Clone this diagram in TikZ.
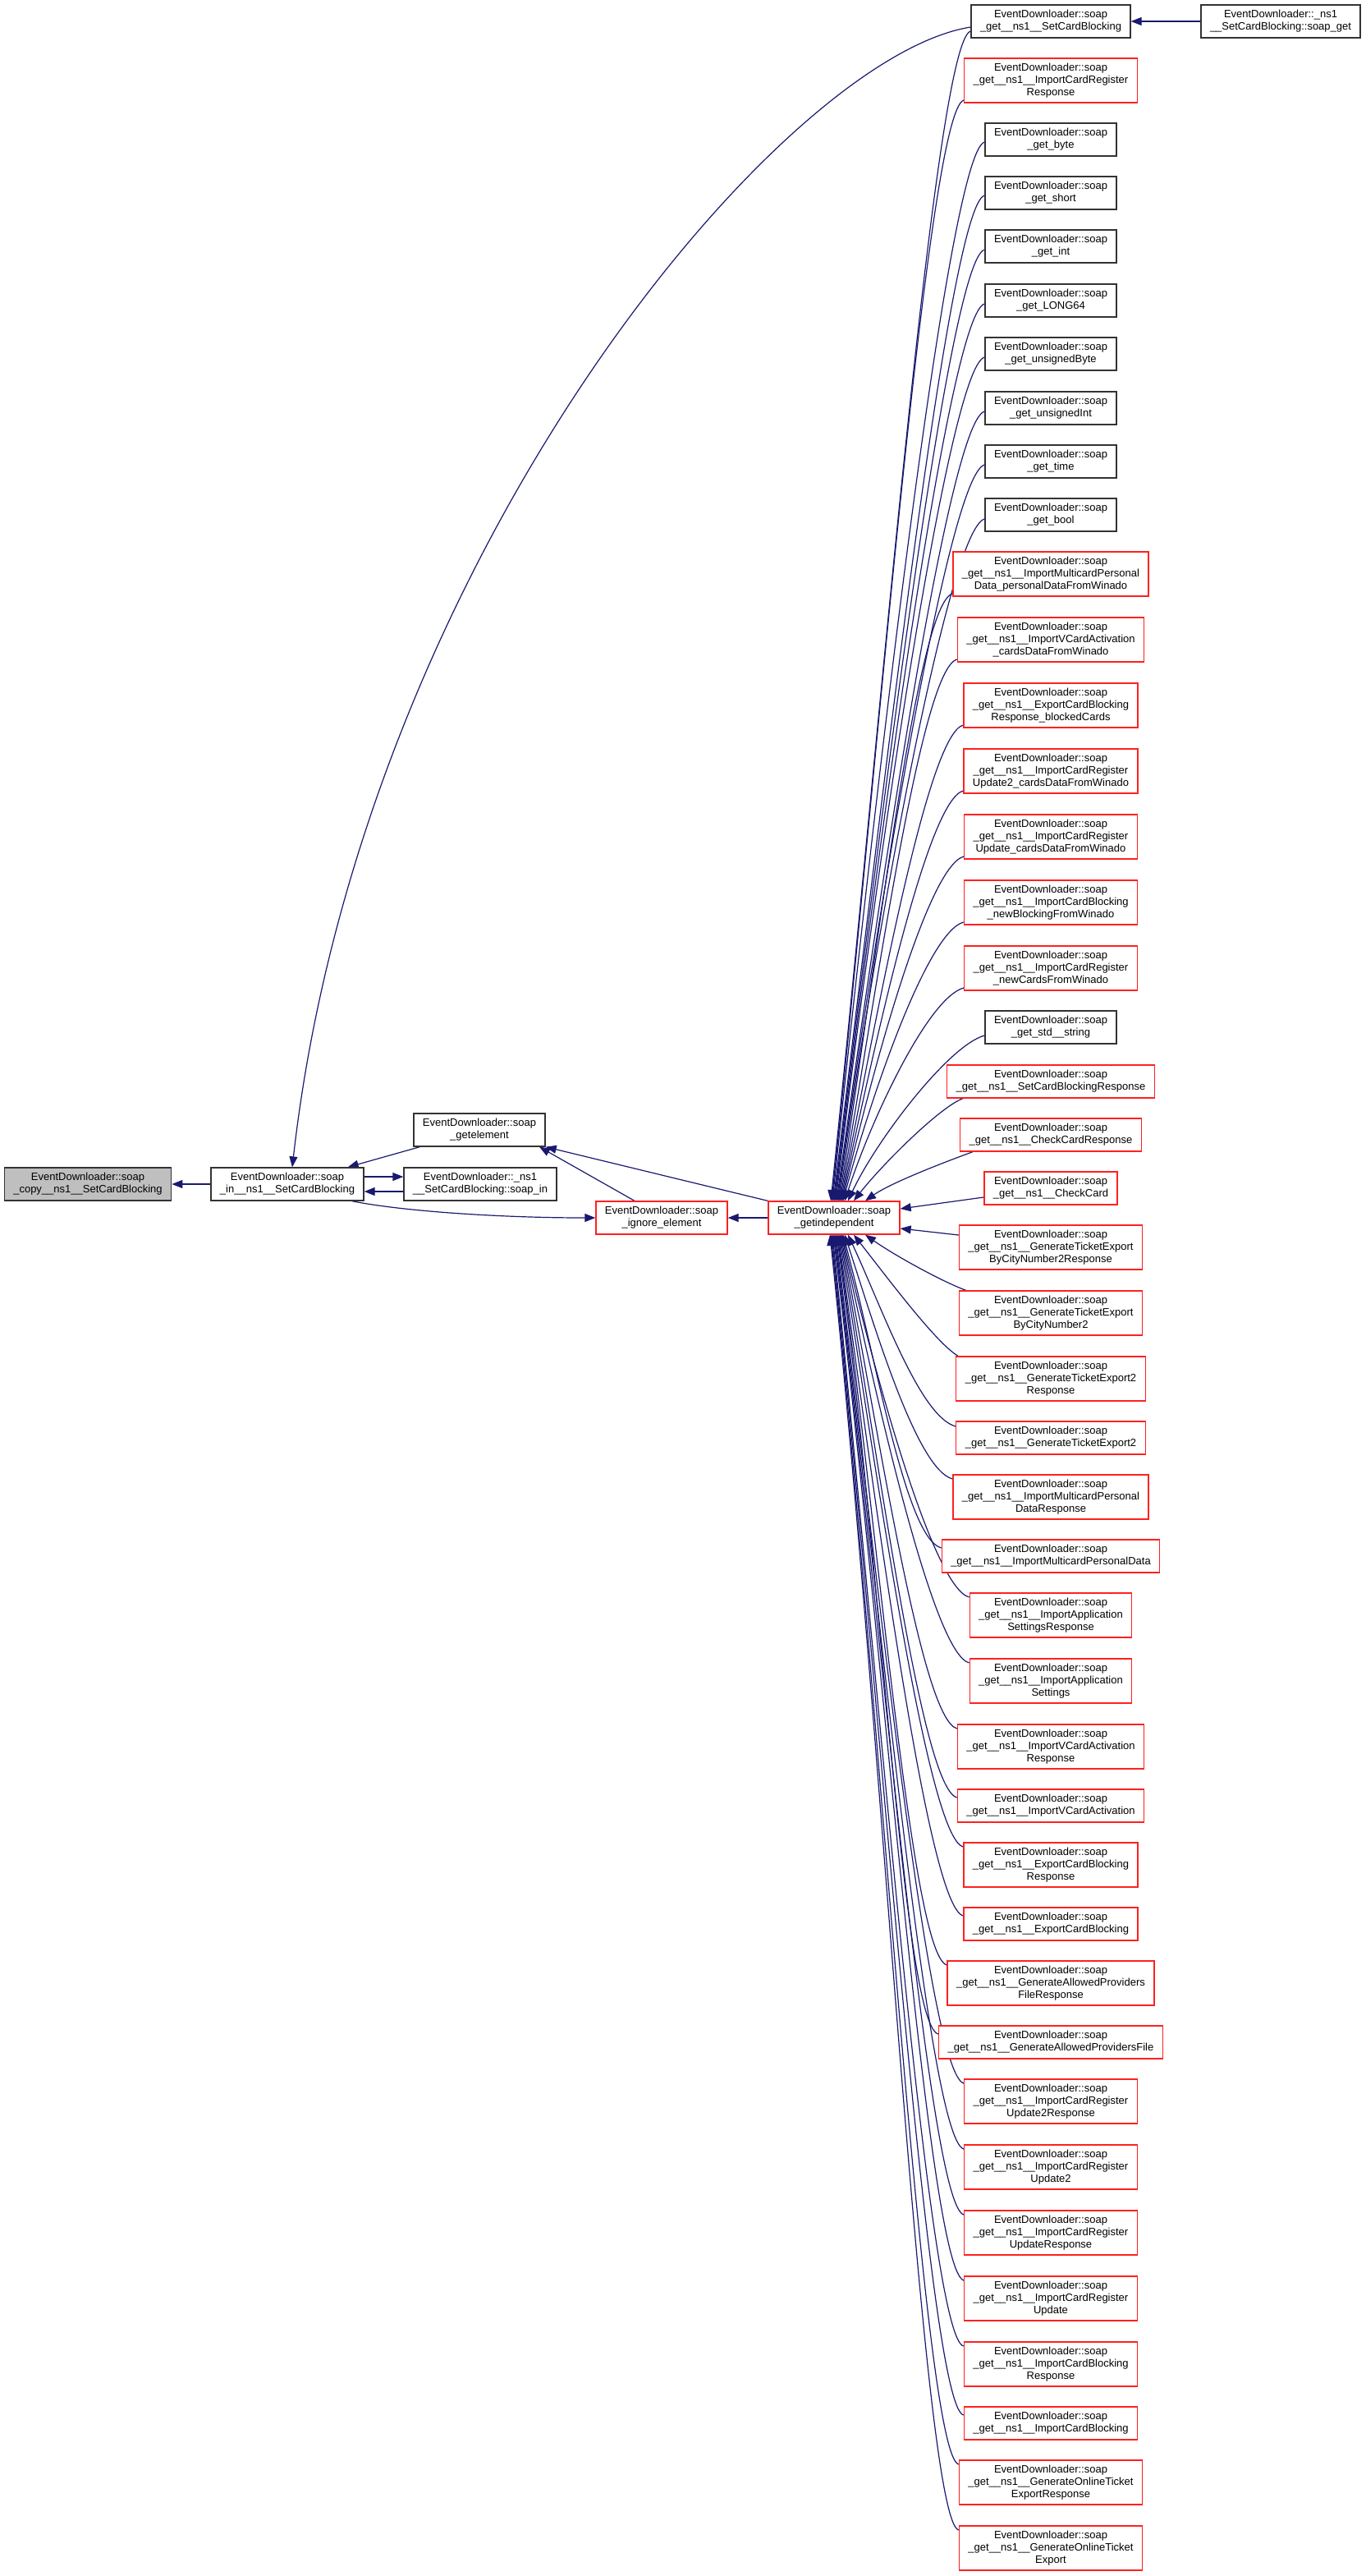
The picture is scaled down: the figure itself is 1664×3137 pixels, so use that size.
\documentclass[tikz,border=0pt]{standalone}
\usepackage{fontspec}
\setmainfont{Liberation Sans}
\usepackage{tikz}
\usetikzlibrary{arrows.meta}
\definecolor{linkblue}{HTML}{191970}
\definecolor{frame}{HTML}{333333}
\definecolor{cutred}{HTML}{FF2020}
\definecolor{selgray}{HTML}{BFBFBF}
\pgfdeclarelayer{bg}
\pgfsetlayers{bg,main}
\tikzset{
  fn/.style={draw=frame, line width=1.3pt, fill=white, align=center, inner xsep=11pt, inner ysep=2pt, minimum height=40pt, font=\fontsize{13pt}{15pt}\selectfont},
  cut/.style={fn, draw=cutred},
  sel/.style={fn, fill=selgray},
  tall/.style={minimum height=54pt},
  link/.style={draw=linkblue, line width=1.2pt, -{Triangle[length=13pt,width=10pt]}},
}

\begin{document}
\begin{tikzpicture}[x=1pt,y=1pt]
  \useasboundingbox (0,0) rectangle (1664,-3137);
  % left part
  \node[sel] (copy) at (107,-1442) {EventDownloader::soap\\\_copy\_\_ns1\_\_SetCardBlocking};
  \node[fn] (in) at (350,-1442) {EventDownloader::soap\\\_in\_\_ns1\_\_SetCardBlocking};
  \node[fn] (getel) at (584,-1376) {EventDownloader::soap\\\_getelement};
  \node[fn] (soapin) at (585,-1442) {EventDownloader::\_ns1\\\_\_SetCardBlocking::soap\_in};
  \node[cut] (ignore) at (806,-1483) {EventDownloader::soap\\\_ignore\_element};
  \node[cut] (gi) at (1016,-1483) {EventDownloader::soap\\\_getindependent};
  \node[fn] (scbget) at (1560,-26) {EventDownloader::\_ns1\\\_\_SetCardBlocking::soap\_get};
  % right column
  \node[fn] (scb) at (1280,-26) {EventDownloader::soap\\\_get\_\_ns1\_\_SetCardBlocking};
  \node[cut,tall] (icrr) at (1280,-98) {EventDownloader::soap\\\_get\_\_ns1\_\_ImportCardRegister\\Response};
  \node[fn] (byte) at (1280,-170) {EventDownloader::soap\\\_get\_byte};
  \node[fn] (short) at (1280,-235) {EventDownloader::soap\\\_get\_short};
  \node[fn] (int) at (1280,-300) {EventDownloader::soap\\\_get\_int};
  \node[fn] (long) at (1280,-366) {EventDownloader::soap\\\_get\_LONG64};
  \node[fn] (ubyte) at (1280,-431) {EventDownloader::soap\\\_get\_unsignedByte};
  \node[fn] (uint) at (1280,-497) {EventDownloader::soap\\\_get\_unsignedInt};
  \node[fn] (time) at (1280,-562) {EventDownloader::soap\\\_get\_time};
  \node[fn] (bool) at (1280,-627) {EventDownloader::soap\\\_get\_bool};
  \node[cut,tall] (impdpd) at (1280,-699) {EventDownloader::soap\\\_get\_\_ns1\_\_ImportMulticardPersonal\\Data\_personalDataFromWinado};
  \node[cut,tall] (ivcacd) at (1280,-779) {EventDownloader::soap\\\_get\_\_ns1\_\_ImportVCardActivation\\\_cardsDataFromWinado};
  \node[cut,tall] (ecbrbc) at (1280,-859) {EventDownloader::soap\\\_get\_\_ns1\_\_ExportCardBlocking\\Response\_blockedCards};
  \node[cut,tall] (icru2cd) at (1280,-939) {EventDownloader::soap\\\_get\_\_ns1\_\_ImportCardRegister\\Update2\_cardsDataFromWinado};
  \node[cut,tall] (icrucd) at (1280,-1019) {EventDownloader::soap\\\_get\_\_ns1\_\_ImportCardRegister\\Update\_cardsDataFromWinado};
  \node[cut,tall] (icbnb) at (1280,-1099) {EventDownloader::soap\\\_get\_\_ns1\_\_ImportCardBlocking\\\_newBlockingFromWinado};
  \node[cut,tall] (icrnc) at (1280,-1179) {EventDownloader::soap\\\_get\_\_ns1\_\_ImportCardRegister\\\_newCardsFromWinado};
  \node[fn] (stdstr) at (1280,-1251) {EventDownloader::soap\\\_get\_std\_\_string};
  \node[cut] (scbr) at (1280,-1317) {EventDownloader::soap\\\_get\_\_ns1\_\_SetCardBlockingResponse};
  \node[cut] (ccr) at (1280,-1382) {EventDownloader::soap\\\_get\_\_ns1\_\_CheckCardResponse};
  \node[cut] (cc) at (1280,-1447) {EventDownloader::soap\\\_get\_\_ns1\_\_CheckCard};
  \node[cut,tall] (gtebr) at (1280,-1519) {EventDownloader::soap\\\_get\_\_ns1\_\_GenerateTicketExport\\ByCityNumber2Response};
  \node[cut,tall] (gteb) at (1280,-1599) {EventDownloader::soap\\\_get\_\_ns1\_\_GenerateTicketExport\\ByCityNumber2};
  \node[cut,tall] (gte2r) at (1280,-1679) {EventDownloader::soap\\\_get\_\_ns1\_\_GenerateTicketExport2\\Response};
  \node[cut] (gte2) at (1280,-1751) {EventDownloader::soap\\\_get\_\_ns1\_\_GenerateTicketExport2};
  \node[cut,tall] (impdr) at (1280,-1823) {EventDownloader::soap\\\_get\_\_ns1\_\_ImportMulticardPersonal\\DataResponse};
  \node[cut] (impd) at (1280,-1895) {EventDownloader::soap\\\_get\_\_ns1\_\_ImportMulticardPersonalData};
  \node[cut,tall] (iasr) at (1280,-1967) {EventDownloader::soap\\\_get\_\_ns1\_\_ImportApplication\\SettingsResponse};
  \node[cut,tall] (ias) at (1280,-2047) {EventDownloader::soap\\\_get\_\_ns1\_\_ImportApplication\\Settings};
  \node[cut,tall] (ivcar) at (1280,-2127) {EventDownloader::soap\\\_get\_\_ns1\_\_ImportVCardActivation\\Response};
  \node[cut] (ivca) at (1280,-2199) {EventDownloader::soap\\\_get\_\_ns1\_\_ImportVCardActivation};
  \node[cut,tall] (ecbr) at (1280,-2271) {EventDownloader::soap\\\_get\_\_ns1\_\_ExportCardBlocking\\Response};
  \node[cut] (ecb) at (1280,-2343) {EventDownloader::soap\\\_get\_\_ns1\_\_ExportCardBlocking};
  \node[cut,tall] (gapfr) at (1280,-2415) {EventDownloader::soap\\\_get\_\_ns1\_\_GenerateAllowedProviders\\FileResponse};
  \node[cut] (gapf) at (1280,-2487) {EventDownloader::soap\\\_get\_\_ns1\_\_GenerateAllowedProvidersFile};
  \node[cut,tall] (icru2r) at (1280,-2559) {EventDownloader::soap\\\_get\_\_ns1\_\_ImportCardRegister\\Update2Response};
  \node[cut,tall] (icru2) at (1280,-2639) {EventDownloader::soap\\\_get\_\_ns1\_\_ImportCardRegister\\Update2};
  \node[cut,tall] (icrur) at (1280,-2719) {EventDownloader::soap\\\_get\_\_ns1\_\_ImportCardRegister\\UpdateResponse};
  \node[cut,tall] (icru) at (1280,-2799) {EventDownloader::soap\\\_get\_\_ns1\_\_ImportCardRegister\\Update};
  \node[cut,tall] (icbr) at (1280,-2879) {EventDownloader::soap\\\_get\_\_ns1\_\_ImportCardBlocking\\Response};
  \node[cut] (icb) at (1280,-2951) {EventDownloader::soap\\\_get\_\_ns1\_\_ImportCardBlocking};
  \node[cut,tall] (goter) at (1280,-3023) {EventDownloader::soap\\\_get\_\_ns1\_\_GenerateOnlineTicket\\ExportResponse};
  \node[cut,tall] (gote) at (1280,-3103) {EventDownloader::soap\\\_get\_\_ns1\_\_GenerateOnlineTicket\\Export};
  \begin{pgfonlayer}{bg}
  \fill[white] (0,0) rectangle (1664,-3137);
  % calls on the left
  \draw[link] (in.west) -- (copy.east);
  \draw[link] ([xshift=8pt]getel.south west) -- ([xshift=-20pt]in.north east);
  \draw[link] ([yshift=9pt]in.east) -- ([yshift=9pt]soapin.west);
  \draw[link] ([yshift=-9pt]soapin.west) -- ([yshift=-9pt]in.east);
  \draw[link] ([xshift=-15pt]in.south east) .. controls +(60,-12) and +(-120,0) .. (ignore.west);
  \draw[link] ([xshift=-33pt]ignore.north) -- ([xshift=73pt]getel.south);
  \draw[link] (gi.north west) -- (getel.south east);
  \draw[link] (gi.west) -- (ignore.east);
  \draw[link] (scbget.west) -- (scb.east);
  \draw[link] ([yshift=-7pt]scb.west) .. controls (950,-70) and (440,-680) .. ([xshift=6pt]in.north);
  % fan into getindependent
  \foreach \n/\ys/\dx/\a/\d in {scb/-12/-4/84/572, icrr/-24/-3/84/536, byte/-3/-2/84/515,
      short/-3/-1/83/489, int/-4/0/83/463, long/-4/1/83/436, ubyte/-4/2/83/410, uint/-4/3/82/384,
      time/-4/4/82/358, bool/-5/5/82/332, impdpd/-24/6/81/296, ivcacd/-24/7/80/264,
      ecbrbc/-24/8/79/232, icru2cd/-24/9/78/200, icrucd/-24/10/77/168, icbnb/-24/11/75/136,
      icrnc/-24/13/72/104, stdstr/-10/17/65/81}
    \draw[link] ([yshift=\ys pt]\n.west) .. controls +(195:45pt) and +(\a:\d pt) .. ([xshift=\dx pt]gi.north);
  \draw[link] ([xshift=20pt]scbr.south west) .. controls +(200:30pt) and +(52:55pt) .. ([xshift=24pt]gi.north);
  \draw[link] ([xshift=16pt]ccr.south west) .. controls +(200:30pt) and +(35:40pt) .. ([xshift=38pt]gi.north);
  \draw[link] ([yshift=-11pt]cc.west) -- ([yshift=11pt]gi.east);
  \draw[link] ([yshift=15pt]gtebr.west) -- ([yshift=-13pt]gi.east);
  \draw[link] ([xshift=9pt]gteb.north west) .. controls +(160:30pt) and +(-35:45pt) .. ([xshift=38pt]gi.south);
  \draw[link] ([xshift=3pt]gte2r.north west) .. controls +(150:30pt) and +(-52:70pt) .. ([xshift=24pt]gi.south);
  \foreach \n/\ys/\dx/\a/\d in {gte2/14/17/-65/97, impdr/22/13/-72/119, impd/10/11/-75/153,
      iasr/22/10/-77/177, ias/22/9/-78/209, ivcar/22/8/-79/241, ivca/10/7/-80/274,
      ecbr/22/6/-81/298, ecb/10/5/-82/332, gapfr/22/4/-82/356, gapf/10/3/-82/390,
      icru2r/22/2/-83/414, icru2/22/1/-83/446, icrur/22/0/-83/478, icru/22/-1/-83/510,
      icbr/22/-2/-84/542, icb/10/-3/-84/575, goter/22/-4/-84/599, gote/22/-5/-84/631}
    \draw[link] ([yshift=\ys pt]\n.west) .. controls +(165:45pt) and +(\a:\d pt) .. ([xshift=\dx pt]gi.south);
  \end{pgfonlayer}
\end{tikzpicture}
\end{document}
